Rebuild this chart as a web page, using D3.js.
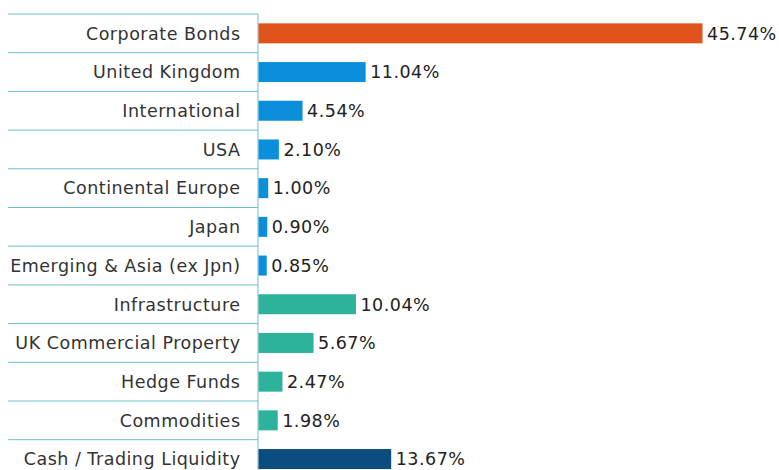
<!DOCTYPE html>
<html>
<head>
<meta charset="utf-8">
<script src="https://cdn.jsdelivr.net/npm/d3@7"></script>
<style>
  body { margin: 0; background: #fff; }
  svg { display: block; }
  .cat { font-family: "DejaVu Sans", Verdana, sans-serif; font-size: 17.5px; letter-spacing: 0.5px; fill: #333; }
  .val { font-family: "DejaVu Sans", Verdana, sans-serif; font-size: 17.5px; letter-spacing: 0.5px; fill: #222; }
</style>
</head>
<body>
<svg id="chart" width="779" height="470"></svg>
<script>
var categories = ["Corporate Bonds", "United Kingdom", "International", "USA",
  "Continental Europe", "Japan", "Emerging & Asia (ex Jpn)", "Infrastructure",
  "UK Commercial Property", "Hedge Funds", "Commodities", "Cash / Trading Liquidity"]
var values = [45.74, 11.04, 4.54, 2.10, 1.00, 0.90, 0.85, 10.04, 5.67, 2.47, 1.98, 13.67]
var groups = ["bonds", "equity", "equity", "equity", "equity", "equity", "equity",
  "alts", "alts", "alts", "alts", "cash"]

var colours = { bonds: "#E0531C", equity: "#0C8FDA", alts: "#2DB29C", cash: "#0A4D7E" }

const svg = d3.select("#chart")
const axisX = 258
const topY = 14
const rowH = 38.7
const barH = 20

const xScale = d3.scaleLinear()
  .domain([0, 45.74])
  .range([axisX, 702])

const yScale = d3.scaleBand()
  .domain(categories)
  .range([topY, topY + rowH * categories.length])
  .padding(0)

const rows = categories.map((c, i) => ({ cat: c, val: values[i], grp: groups[i] }))

// row separators
svg.selectAll("line.sep")
  .data(categories.concat(["__end"]))
  .enter()
  .append("line")
  .attr("class", "sep")
  .attr("x1", 8)
  .attr("x2", axisX)
  .attr("y1", (d, i) => topY + i * yScale.bandwidth())
  .attr("y2", (d, i) => topY + i * yScale.bandwidth())
  .style("stroke", "#6DBDCB")
  .style("stroke-width", 1)

// vertical axis line
svg.append("line")
  .attr("x1", axisX)
  .attr("x2", axisX)
  .attr("y1", yScale.range()[0])
  .attr("y2", yScale.range()[1])
  .style("stroke", "#6DBDCB")
  .style("stroke-width", 1)

svg.selectAll("rect")
  .data(rows)
  .enter()
  .append("rect")
  .attr("x", xScale(0) + 0.5)
  .attr("y", d => yScale(d.cat) + (yScale.bandwidth() - barH) / 2)
  .attr("width", d => xScale(d.val) - xScale(0))
  .attr("height", barH)
  .style("fill", d => colours[d.grp])

svg.selectAll("text.cat")
  .data(rows)
  .enter()
  .append("text")
  .attr("class", "cat")
  .attr("x", axisX - 17.5)
  .attr("y", d => yScale(d.cat) + yScale.bandwidth() / 2)
  .attr("dy", "0.36em")
  .attr("text-anchor", "end")
  .text(d => d.cat)

svg.selectAll("text.val")
  .data(rows)
  .enter()
  .append("text")
  .attr("class", "val")
  .attr("x", d => xScale(d.val) + 5)
  .attr("y", d => yScale(d.cat) + yScale.bandwidth() / 2)
  .attr("dy", "0.36em")
  .text(d => d.val.toFixed(2) + "%")
</script>
</body>
</html>
